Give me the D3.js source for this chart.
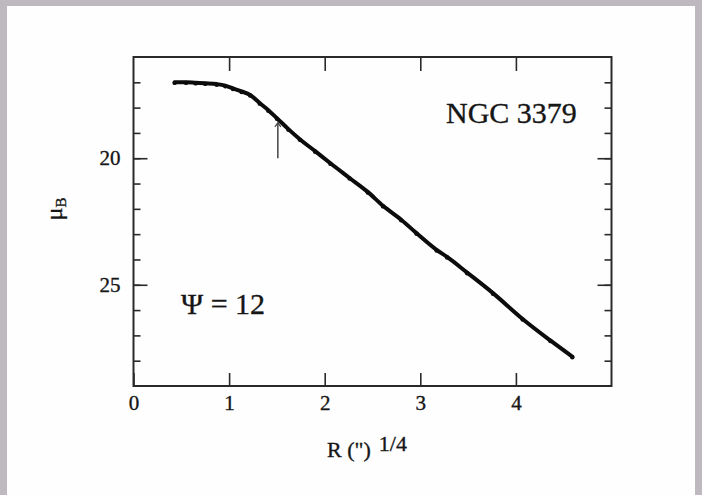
<!DOCTYPE html>
<html>
<head>
<meta charset="utf-8">
<script src="https://cdn.jsdelivr.net/npm/d3@7"></script>
<style>
  body { margin: 0; background: #bdb9be; }
  svg { display: block; }
  text { font-family: "Liberation Serif", "Times New Roman", serif; fill: #161616; stroke: #161616; stroke-width: 0.35px; }
</style>
</head>
<body>
<script>
// profile: R^(1/4) vs mu_B
const rVals = [0.43, 0.55, 0.65, 0.75, 0.87, 0.96, 1.04, 1.13, 1.22, 1.32, 1.41, 1.5,
  1.62, 1.74, 1.9, 2.06, 2.26, 2.45, 2.61, 2.8, 2.96, 3.17, 3.28, 3.49, 3.76, 4.07, 4.36, 4.59]
const muVals = [17.0, 17.0, 17.02, 17.04, 17.07, 17.13, 17.24, 17.36, 17.5, 17.82, 18.1, 18.42,
  18.85, 19.25, 19.72, 20.2, 20.78, 21.33, 21.88, 22.43, 22.96, 23.62, 23.9, 24.52, 25.33, 26.35, 27.2, 27.84]
const xTicks = [0, 1, 2, 3, 4]
const yMinor = [17, 18, 19, 20, 21, 22, 23, 24, 25, 26, 27, 28]
const yMajor = [20, 25]
// break marker
const arrowR = 1.51, arrowFrom = 20.0, arrowTo = 18.6

const width = 702, height = 495
const pLeft = 133.5, pRight = 611.5, pTop = 57, pBottom = 386

const svg = d3.select('body').append('svg')
  .attr('width', width)
  .attr('height', height)

// paper
svg.append('rect')
  .attr('x', 7).attr('y', 6)
  .attr('width', 688).attr('height', height - 6)
  .attr('fill', '#fefefe')

const x = d3.scaleLinear().domain([0, 5]).range([pLeft, pRight])
const y = d3.scaleLinear().domain([16, 29]).range([pTop, pBottom])

const axisColor = '#2a2a2a'
function style(g) {
  g.select('.domain').remove()
  g.selectAll('.tick line').attr('stroke', axisColor).attr('stroke-width', 1.6)
  g.selectAll('.tick text').style('font-size', '21px').attr('fill', '#161616')
}

svg.append('g')
  .attr('transform', `translate(0,${pBottom})`)
  .call(d3.axisBottom(x).tickValues(xTicks).tickSize(-13).tickPadding(9).tickFormat(d3.format('d')))
  .call(style)

svg.append('g')
  .attr('transform', `translate(0,${pTop})`)
  .call(d3.axisTop(x).tickValues(xTicks.slice(1)).tickSize(-14).tickFormat(''))
  .call(style)

svg.append('g')
  .attr('transform', `translate(${pLeft},0)`)
  .call(d3.axisLeft(y).tickValues(yMinor).tickSize(-7).tickFormat(''))
  .call(style)
svg.append('g')
  .attr('transform', `translate(${pLeft},0)`)
  .call(d3.axisLeft(y).tickValues(yMajor).tickSize(-14).tickPadding(13).tickFormat(d3.format('d')))
  .call(style)

svg.append('g')
  .attr('transform', `translate(${pRight},0)`)
  .call(d3.axisRight(y).tickValues(yMinor).tickSize(-7).tickFormat(''))
  .call(style)
svg.append('g')
  .attr('transform', `translate(${pRight},0)`)
  .call(d3.axisRight(y).tickValues(yMajor).tickSize(-14).tickFormat(''))
  .call(style)

// frame
svg.append('rect')
  .attr('x', pLeft).attr('y', pTop)
  .attr('width', pRight - pLeft).attr('height', pBottom - pTop)
  .attr('fill', 'none')
  .attr('stroke', axisColor)
  .attr('stroke-width', 2)

// profile
const pts = rVals.map((r, i) => [r, muVals[i]])
const line = d3.line()
  .x(d => x(d[0]))
  .y(d => y(d[1]))
  .curve(d3.curveMonotoneX)

svg.append('path')
  .datum(pts)
  .attr('d', line)
  .attr('fill', 'none')
  .attr('stroke', '#0c0c0c')
  .attr('stroke-width', 4)
  .attr('stroke-linecap', 'round')

svg.append('g')
  .selectAll('circle')
  .data(pts)
  .enter().append('circle')
  .attr('cx', d => x(d[0]))
  .attr('cy', d => y(d[1]) + 0.6)
  .attr('r', 2.2)
  .attr('fill', '#0c0c0c')

// arrow
svg.append('line')
  .attr('x1', x(arrowR)).attr('x2', x(arrowR))
  .attr('y1', y(arrowFrom)).attr('y2', y(arrowTo))
  .attr('stroke', '#444')
  .attr('stroke-width', 1.5)
svg.append('path')
  .attr('d', `M${x(arrowR) - 3},${y(arrowTo) + 4} L${x(arrowR)},${y(arrowTo)} L${x(arrowR) + 3},${y(arrowTo) + 4}`)
  .attr('fill', 'none')
  .attr('stroke', '#444')
  .attr('stroke-width', 1.2)

// labels
svg.append('text')
  .attr('x', 446).attr('y', 123)
  .style('font-size', '30px')
  .text('NGC 3379')

svg.append('text')
  .attr('x', 181).attr('y', 314)
  .style('font-size', '30px')
  .text('Ψ = 12')

const xt = svg.append('text')
  .attr('x', 327).attr('y', 457)
  .style('font-size', '22px')
xt.append('tspan').text('R (")')
xt.append('tspan').attr('dx', 8).attr('dy', -6).text('1/4')

const yt = svg.append('text')
  .attr('transform', 'translate(62,209) rotate(-90)')
  .attr('text-anchor', 'middle')
  .style('font-size', '24px')
yt.append('tspan').text('μ')
yt.append('tspan').attr('dy', 4).style('font-size', '15px').text('B')
</script>
</body>
</html>
